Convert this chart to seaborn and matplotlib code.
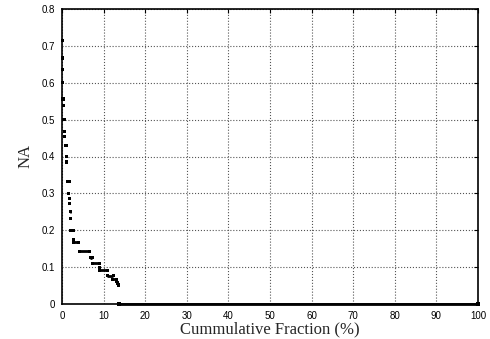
import numpy as np
import pandas as pd
import matplotlib
matplotlib.use("Agg")
import matplotlib.pyplot as plt
import seaborn as sns

# NA levels (sorted, descending) and the cumulative-fraction range (%) each occupies
na_levels = [0.714, 0.667, 0.636, 0.6, 0.556, 0.538, 0.5, 0.467, 0.455, 0.429,
             0.4, 0.385, 0.333, 0.3, 0.286, 0.273, 0.25, 0.231, 0.2, 0.176,
             0.167, 0.143, 0.125, 0.111, 0.1, 0.091, 0.077, 0.0667, 0.0625,
             0.0588, 0.0556, 0.0526, 0.05, 0.0]
frac_start = [0.1, 0.12, 0.15, 0.2, 0.25, 0.3, 0.45, 0.6, 0.65, 0.85,
              1.0, 1.1, 1.3, 1.6, 1.7, 1.8, 1.95, 2.05, 2.1, 2.7,
              2.7, 4.1, 6.8, 7.3, 9.1, 9.1, 10.9, 12.2, 13.2,
              13.3, 13.4, 13.5, 13.6, 13.7]
frac_end = [0.1, 0.12, 0.15, 0.2, 0.25, 0.35, 0.55, 0.6, 0.65, 0.95,
            1.0, 1.1, 1.7, 1.6, 1.7, 1.8, 2.05, 2.05, 2.7, 2.7,
            4.0, 6.7, 7.3, 9.1, 9.1, 10.9, 12.3, 13.1, 13.2,
            13.3, 13.4, 13.5, 13.6, 100.0]

x_ticks = [0, 10, 20, 30, 40, 50, 60, 70, 80, 90, 100]
y_ticks = [0, 0.1, 0.2, 0.3, 0.4, 0.5, 0.6, 0.7, 0.8]
y_tick_labels = ["0", "0.1", "0.2", "0.3", "0.4", "0.5", "0.6", "0.7", "0.8"]

runs = pd.DataFrame({"level": na_levels, "start": frac_start, "end": frac_end})
long = runs.melt(id_vars="level", value_vars=["start", "end"], value_name="frac")
long["run"] = long["level"].astype(str)

sns.set_theme(style="white")
plt.rcParams["font.family"] = ["Liberation Sans", "DejaVu Sans"]

fig = plt.figure(figsize=(4.9, 3.39), dpi=100)
ax = fig.add_axes([62 / 490, 1 - 304 / 339, 416 / 490, 295 / 339])

sns.lineplot(data=long, x="frac", y="level", units="run", estimator=None,
             sort=False, color="black", linewidth=2.0, legend=False, ax=ax,
             clip_on=False, solid_capstyle="butt", zorder=3)
sns.scatterplot(data=long, x="frac", y="level", marker="s", s=5, color="black",
                edgecolor="none", legend=False, ax=ax, clip_on=False, zorder=3)

ax.set_xlim(0, 100)
ax.set_ylim(0, 0.8)
ax.set_xticks(x_ticks)
ax.set_xticklabels([str(t) for t in x_ticks])
ax.set_yticks(y_ticks)
ax.set_yticklabels(y_tick_labels)
ax.tick_params(direction="in", length=3, width=0.8, labelsize=7, pad=5,
               colors="black", top=True, right=True)
ax.grid(True, linestyle=":", color="#555555", linewidth=0.8)
for s in ax.spines.values():
    s.set_visible(True)
    s.set_color("black")
    s.set_linewidth(1.2)

ax.set_xlabel("Cummulative Fraction (%)", family="Liberation Serif", fontsize=12,
              labelpad=0)
ax.set_ylabel("NA", family="Liberation Serif", fontsize=12, labelpad=6)

fig.savefig("out.png", dpi=100)
